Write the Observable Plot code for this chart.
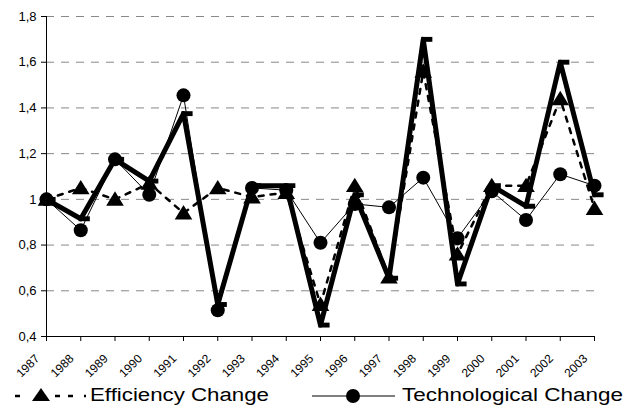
<!DOCTYPE html>
<html><head><meta charset="utf-8">
<script src="https://cdn.jsdelivr.net/npm/d3@7"></script>
<script src="https://cdn.jsdelivr.net/npm/@observablehq/plot@0.6"></script>
<style>
body{margin:0;background:#fff;font-family:"Liberation Sans",Arial,sans-serif;}
#chart{width:628px;height:405px;overflow:hidden;position:relative;background:#fff}
#chart svg{display:block}
#legend{position:absolute;left:0;top:380px}
</style>
</head><body><div id="chart"></div>
<script>
const years = [1987,1988,1989,1990,1991,1992,1993,1994,1995,1996,1997,1998,1999,2000,2001,2002,2003];
const efficiency = [1.00,1.05,1.00,1.07,0.94,1.05,1.01,1.03,0.54,1.06,0.66,1.56,0.76,1.06,1.06,1.44,0.96];
const technological = [1.00,0.865,1.175,1.02,1.455,0.515,1.05,1.04,0.81,0.98,0.965,1.095,0.83,1.035,0.91,1.11,1.06];
const tfpChange = [1.00,0.915,1.175,1.08,1.375,0.54,1.06,1.06,0.45,1.02,0.655,1.70,0.63,1.06,0.97,1.60,1.02];
const yTicks = [0.4,0.6,0.8,1.0,1.2,1.4,1.6,1.8];
const legendLabels = ["Efficiency Change","Technological Change"];

const data = years.map((year,i)=>({year, eff: efficiency[i], tech: technological[i], tfp: tfpChange[i]}));
const fmt = d => Math.abs(d-1)<1e-9 ? "1" : d.toFixed(1).replace(".", ",");
const triangle = {draw(ctx, size){ const r=Math.sqrt(size/Math.PI); ctx.moveTo(0,-r); ctx.lineTo(r*1.1,r*0.8); ctx.lineTo(-r*1.1,r*0.8); ctx.closePath(); }};
const dash = {draw(ctx, size){ const r=Math.sqrt(size/Math.PI); ctx.rect(-0.3*r,-0.35*r,1.6*r,0.7*r); }};

const plot = Plot.plot({
  width: 628, height: 405,
  marginLeft: 46, marginRight: 34, marginTop: 16, marginBottom: 69,
  style: {fontFamily: "Liberation Sans, Arial, sans-serif", background: "white", color: "black"},
  x: {domain: [1987, 2003]},
  y: {domain: [0.4, 1.8]},
  marks: [
    Plot.ruleY(yTicks.filter(d=>d>0.41), {x1: 1987, x2: 2003, stroke: "#888", strokeWidth: 1, strokeDasharray: "8,7"}),
    Plot.axisY({ticks: yTicks, tickFormat: fmt, tickSize: 5, tickPadding: 5, fontSize: 13, label: null, stroke: "black"}),
    Plot.axisX({ticks: years, tickFormat: () => "", tickSize: 5, label: null, stroke: "black"}),
    Plot.axisX({ticks: years, tickFormat: d => String(d), tickRotate: -45, tickSize: 0, tickPadding: 20, dx: -9, fontSize: 12, label: null}),
    Plot.ruleX([1987], {stroke: "black"}),
    Plot.ruleY([0.4], {stroke: "black"}),
    Plot.lineY(data, {x: "year", y: "eff", stroke: "black", strokeWidth: 2.5, strokeDasharray: "5,7"}),
    Plot.dot(data, {x: "year", y: "eff", symbol: triangle, r: 8, fill: "black", stroke: "none"}),
    Plot.lineY(data, {x: "year", y: "tech", stroke: "black", strokeWidth: 1}),
    Plot.dot(data, {x: "year", y: "tech", r: 7, fill: "black", stroke: "none"}),
    Plot.lineY(data, {x: "year", y: "tfp", stroke: "black", strokeWidth: 5}),
    Plot.dot(data, {x: "year", y: "tfp", symbol: dash, r: 7, fill: "black", stroke: "none"})
  ]
});
document.getElementById("chart").appendChild(plot);

// legend below the plot area
const lg = d3.select("#chart").append("svg").attr("id","legend").attr("width", 628).attr("height", 25)
  .style("font-family", "Liberation Sans, Arial, sans-serif");
[[15,20],[55,60],[68,73],[84,86]].forEach(([a,b]) => lg.append("line").attr("x1",a).attr("x2",b).attr("y1",16).attr("y2",16).attr("stroke","black").attr("stroke-width",2.5));
lg.append("path").attr("d", "M41,8 L50,21 L32,21 Z").attr("fill","black");
lg.append("text").attr("x", 90).attr("y", 21).attr("font-size", 18).attr("textLength", 179).attr("lengthAdjust","spacingAndGlyphs").text(legendLabels[0]);
lg.append("line").attr("x1",312).attr("x2",395).attr("y1",16).attr("y2",16).attr("stroke","black").attr("stroke-width",1);
lg.append("circle").attr("cx",353).attr("cy",16).attr("r",7).attr("fill","black");
lg.append("text").attr("x", 402).attr("y", 21).attr("font-size", 18).attr("textLength", 221).attr("lengthAdjust","spacingAndGlyphs").text(legendLabels[1]);
</script>
</body></html>
